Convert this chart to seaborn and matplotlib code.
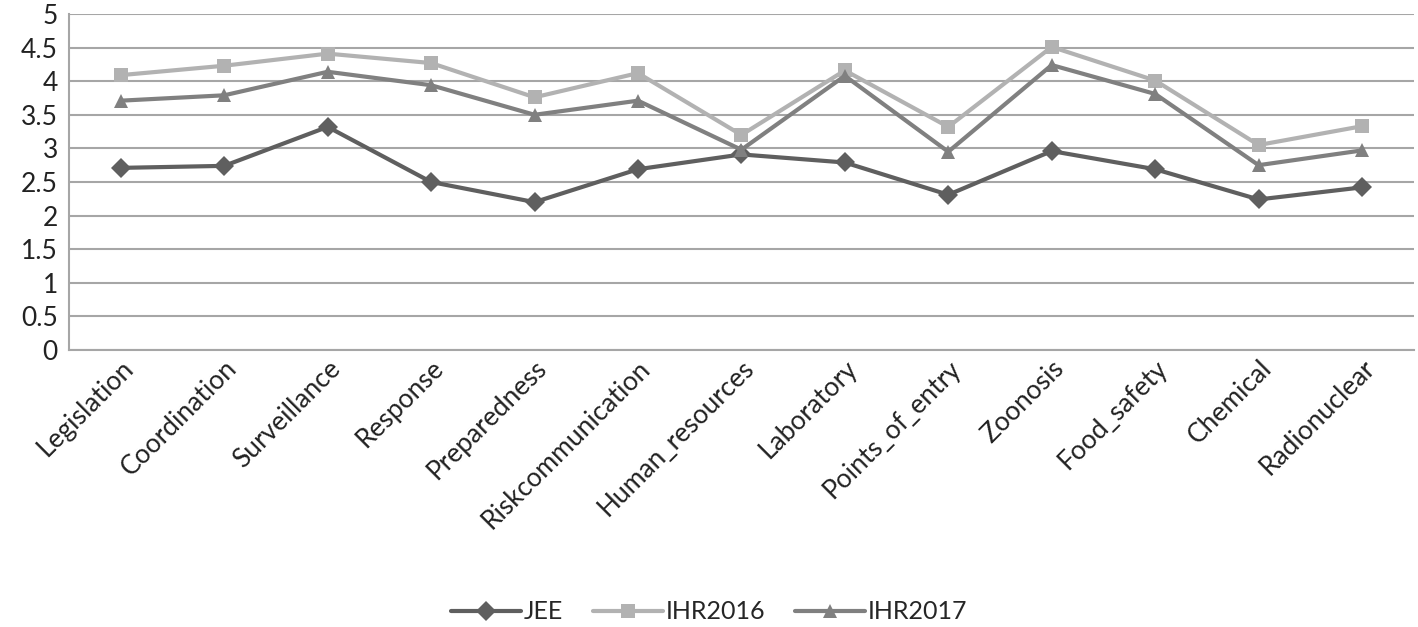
import matplotlib

matplotlib.use("Agg")
import matplotlib.pyplot as plt
import pandas as pd
import seaborn as sns

categories = ["Legislation", "Coordination", "Surveillance", "Response", "Preparedness",
              "Riskcommunication", "Human_resources", "Laboratory", "Points_of_entry",
              "Zoonosis", "Food_safety", "Chemical", "Radionuclear"]
jee = [2.71, 2.74, 3.32, 2.50, 2.20, 2.69, 2.91, 2.79, 2.31, 2.96, 2.69, 2.24, 2.42]
ihr2016 = [4.09, 4.23, 4.41, 4.27, 3.76, 4.12, 3.20, 4.16, 3.32, 4.51, 4.01, 3.05, 3.33]
ihr2017 = [3.71, 3.79, 4.14, 3.94, 3.50, 3.71, 2.98, 4.08, 2.95, 4.24, 3.81, 2.75, 2.97]

series = {"JEE": jee, "IHR2016": ihr2016, "IHR2017": ihr2017}
df = pd.concat(
    [pd.DataFrame({"category": categories, "score": v, "series": k}) for k, v in series.items()],
    ignore_index=True,
)

sns.set_style("white")
plt.rcParams["font.family"] = ["Lato", "DejaVu Sans"]

fig = plt.figure(figsize=(14.18, 6.27), dpi=100)
ax = fig.add_axes([0.0487, 0.4418, 0.9483, 0.5359])

palette = {"JEE": "#5f5f5f", "IHR2016": "#b2b2b2", "IHR2017": "#808080"}
markers = {"JEE": "D", "IHR2016": "s", "IHR2017": "^"}
sns.lineplot(data=df, x="category", y="score", hue="series", style="series",
             palette=palette, markers=markers, dashes=False, sort=False,
             linewidth=3, markersize=10, markeredgewidth=0, ax=ax)

ax.set_ylim(0, 5)
ax.set_yticks([0, 0.5, 1, 1.5, 2, 2.5, 3, 3.5, 4, 4.5, 5])
ax.set_yticklabels(["0", "0.5", "1", "1.5", "2", "2.5", "3", "3.5", "4", "4.5", "5"], fontsize=19)
ax.set_xlim(-0.5, len(categories) - 0.5)
ax.tick_params(axis="x", labelsize=19, length=0, pad=4)
ax.tick_params(axis="y", length=0, pad=8)
plt.setp(ax.get_xticklabels(), rotation=45, ha="right", rotation_mode="anchor")
for lbl in ax.get_yticklabels() + ax.get_xticklabels():
    lbl.set_color("#222222")

ax.yaxis.grid(True, color="#a6a6a6", linewidth=1.5)
ax.set_axisbelow(True)
for side in ["top", "right"]:
    ax.spines[side].set_visible(False)
for side in ["left", "bottom"]:
    ax.spines[side].set_color("#a6a6a6")
    ax.spines[side].set_linewidth(1.5)
ax.set_xlabel("")
ax.set_ylabel("")

handles, labels = ax.get_legend_handles_labels()
ax.legend_.remove()
fig.legend(handles, labels, loc="center", bbox_to_anchor=(0.5, 0.024), ncol=3,
           frameon=False, fontsize=18, handlelength=2.8, columnspacing=1.2, handletextpad=0.1)

fig.savefig("out.png", dpi=100)
